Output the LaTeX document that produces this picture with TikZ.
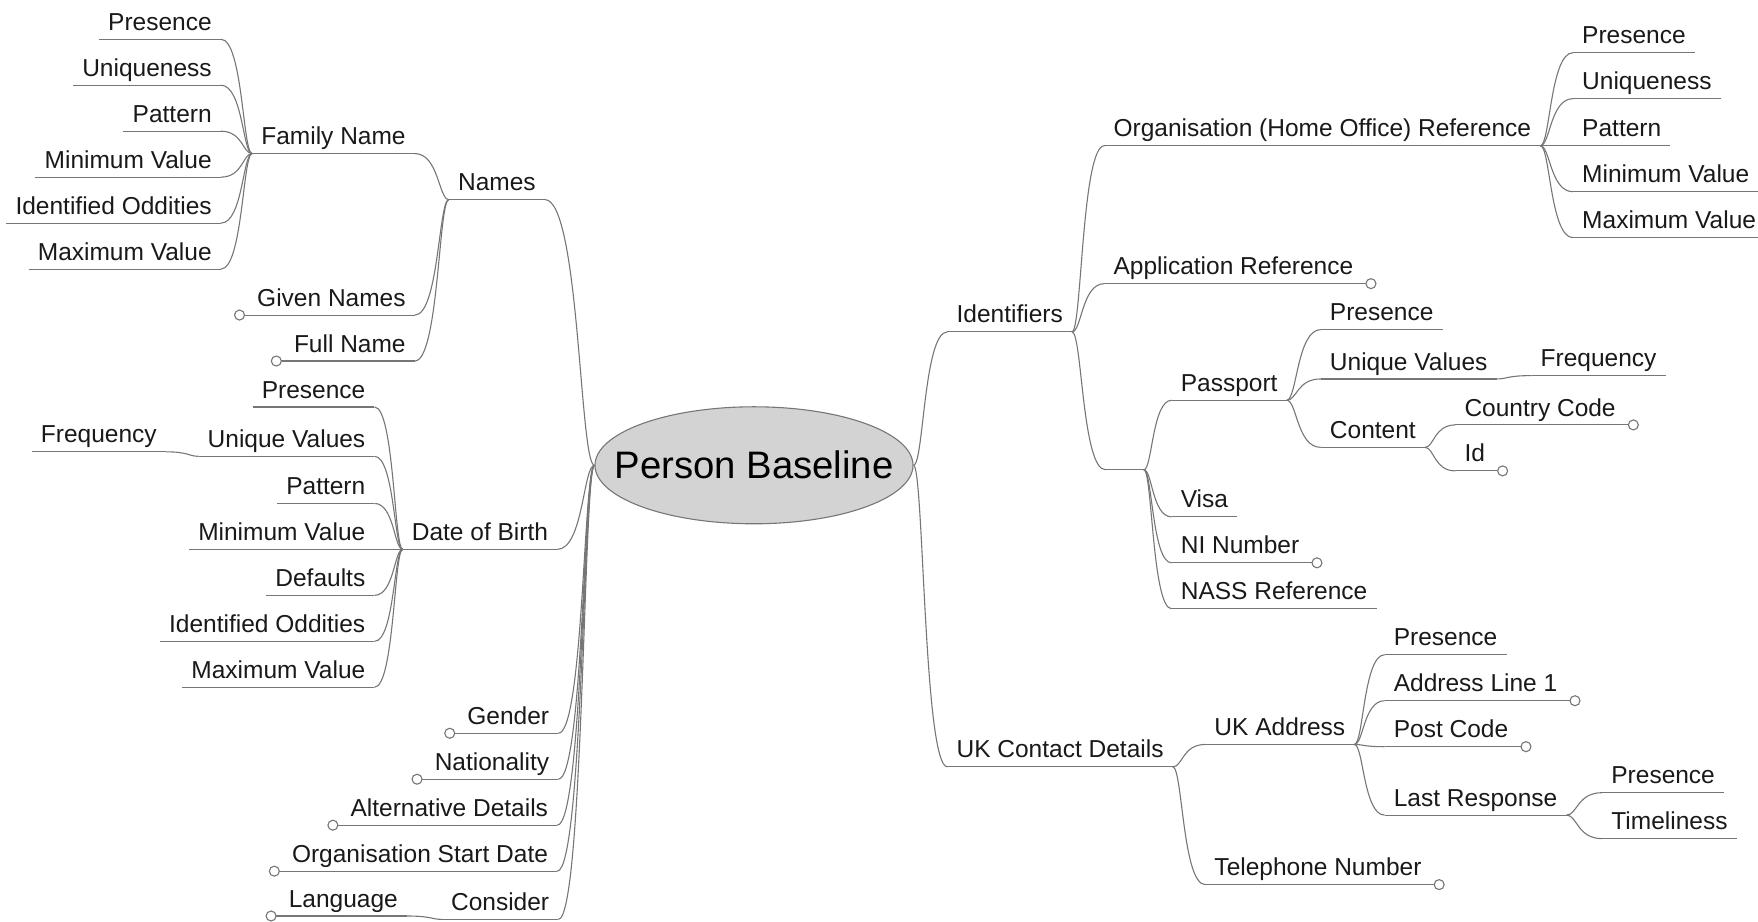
\documentclass[tikz,border=0pt]{standalone}
\usepackage{fontspec}
\setmainfont{Liberation Sans}
\usetikzlibrary{shapes.geometric,calc}
\definecolor{edge}{RGB}{118,118,118}
\definecolor{hub}{RGB}{211,211,211}
\tikzset{
  conn/.style={draw=edge, line width=1.1pt},
  item/.style={font=\fontsize{24.5pt}{29pt}\selectfont, text=black!90, inner xsep=9pt, inner ysep=3.7pt, text height=18pt, text depth=5pt},
  rt/.style={item, anchor=south west},
  lf/.style={item, anchor=south east},
  knob/.style={draw=edge, line width=1.1pt, fill=white},
}
% fork-style branch: horizontal at both ends, steep near the parent
\newcommand\linkto[2]{\draw[conn] let \p1=(#1), \p2=(#2) in (\p1) .. controls ({\x1+0.3*(\x2-\x1)},\y1) and ({\x1+0.3*(\x2-\x1)},\y2) .. (\p2);}

\begin{document}
\begin{tikzpicture}[x=1.1212pt,y=-1.1212pt]
\useasboundingbox (0,0) rectangle (1568,822);

% central topic (label boxed to zero width so the ellipse keeps its own size)
\node[ellipse, draw=edge, line width=1.1pt, fill=hub, minimum width=318pt, minimum height=117pt, inner sep=0pt,
      text height=27pt, text depth=0pt,
      font=\fontsize{38.3pt}{46pt}\selectfont] (root) at (672.5,415) {\makebox[0pt]{Person Baseline}};

% ---------- left branches ----------
\node[lf] (names) at (486,178) {Names};
\node[lf] (fam) at (370,137) {Family Name};
\node[lf] (given) at (370,281) {Given Names};
\node[lf] (fulln) at (370,322) {Full Name};
\node[lf] (famPres) at (197,35) {Presence};
\node[lf] (famUniq) at (197,76) {Uniqueness};
\node[lf] (famPatt) at (197,117) {Pattern};
\node[lf] (famMin) at (197,158) {Minimum Value};
\node[lf] (famOdd) at (197,199) {Identified Oddities};
\node[lf] (famMax) at (197,240) {Maximum Value};
\node[lf] (dob) at (497,490) {Date of Birth};
\node[lf] (dobPres) at (334,363) {Presence};
\node[lf] (dobUniq) at (334,407) {Unique Values};
\node[lf] (dobFreq) at (148,403) {Frequency};
\node[lf] (dobPatt) at (334,449) {Pattern};
\node[lf] (dobMin) at (334,490) {Minimum Value};
\node[lf] (dobDef) at (334,531) {Defaults};
\node[lf] (dobOdd) at (334,572) {Identified Oddities};
\node[lf] (dobMax) at (334,613) {Maximum Value};
\node[lf] (gender) at (498,654) {Gender};
\node[lf] (nation) at (498,695) {Nationality};
\node[lf] (altdet) at (497,736) {Alternative Details};
\node[lf] (orgstart) at (497,777) {Organisation Start Date};
\node[lf] (consider) at (498,820) {Consider};
\node[lf] (lang) at (363,817) {Language};

% ---------- right branches ----------
\node[rt] (ident) at (845,296) {Identifiers};
\node[rt] (ukcd) at (845,684) {UK Contact Details};
\node[rt] (orgref) at (985,130) {Organisation (Home Office) Reference};
\node[rt] (appref) at (985,253) {Application Reference};
\node[rt, minimum width=38pt] (docs) at (986,419) {};
\node[rt] (passport) at (1045,357) {Passport};
\node[rt] (visa) at (1045,461) {Visa};
\node[rt] (nino) at (1045,502) {NI Number};
\node[rt] (nass) at (1045,543) {NASS Reference};
\node[rt] (ppPres) at (1178,294) {Presence};
\node[rt] (ppUniq) at (1178,338) {Unique Values};
\node[rt] (ppFreq) at (1366,335) {Frequency};
\node[rt] (ppCont) at (1178,399) {Content};
\node[rt] (country) at (1298,379) {Country Code};
\node[rt] (passid) at (1298,420) {Id};
\node[rt] (orPres) at (1403,47) {Presence};
\node[rt] (orUniq) at (1403,88) {Uniqueness};
\node[rt] (orPatt) at (1403,130) {Pattern};
\node[rt] (orMin) at (1403,171) {Minimum Value};
\node[rt] (orMax) at (1403,212) {Maximum Value};
\node[rt] (ukaddr) at (1075,664) {UK Address};
\node[rt] (phone) at (1075,789) {Telephone Number};
\node[rt] (uaPres) at (1235,584) {Presence};
\node[rt] (uaLine) at (1235,625) {Address Line 1};
\node[rt] (uaPost) at (1235,666) {Post Code};
\node[rt] (uaLast) at (1235,727) {Last Response};
\node[rt] (lrPres) at (1429,707) {Presence};
\node[rt] (lrTime) at (1429,748) {Timeliness};

% underlines beneath every topic
\foreach \k in {names,fam,given,fulln,famPres,famUniq,famPatt,famMin,famOdd,famMax,
  dob,dobPres,dobUniq,dobFreq,dobPatt,dobMin,dobDef,dobOdd,dobMax,
  gender,nation,altdet,orgstart,consider,lang,
  ident,ukcd,orgref,appref,docs,passport,visa,nino,nass,ppPres,ppUniq,ppFreq,ppCont,
  country,passid,orPres,orUniq,orPatt,orMin,orMax,ukaddr,phone,uaPres,uaLine,uaPost,uaLast,lrPres,lrTime}
  \draw[conn] (\k.south west) -- (\k.south east);

% folded-branch knobs
\foreach \k in {appref,nino,country,passid,phone,uaLine,uaPost}
  \draw[conn] (\k.south east) -- ++(3.5pt,0) ++(5pt,0) node[circle, knob, inner sep=0pt, minimum size=10pt] {};
\foreach \k in {given,fulln,gender,nation,altdet,orgstart,lang}
  \draw[conn] (\k.south west) -- ++(-3.5pt,0) ++(-5pt,0) node[circle, knob, inner sep=0pt, minimum size=10pt] {};

% branches, left
\foreach \k in {names,dob,gender,nation,altdet,orgstart,consider}
  \linkto{root.west}{\k.south east};
\foreach \k in {fam,given,fulln}
  \linkto{names.south west}{\k.south east};
\foreach \k in {famPres,famUniq,famPatt,famMin,famOdd,famMax}
  \linkto{fam.south west}{\k.south east};
\foreach \k in {dobPres,dobUniq,dobPatt,dobMin,dobDef,dobOdd,dobMax}
  \linkto{dob.south west}{\k.south east};
\linkto{dobUniq.south west}{dobFreq.south east}
\linkto{consider.south west}{lang.south east}

% branches, right
\foreach \k in {ident,ukcd}
  \linkto{root.east}{\k.south west};
\foreach \k in {orgref,appref,docs}
  \linkto{ident.south east}{\k.south west};
\foreach \k in {passport,visa,nino,nass}
  \linkto{docs.south east}{\k.south west};
\foreach \k in {ppPres,ppUniq,ppCont}
  \linkto{passport.south east}{\k.south west};
\linkto{ppUniq.south east}{ppFreq.south west}
\foreach \k in {country,passid}
  \linkto{ppCont.south east}{\k.south west};
\foreach \k in {orPres,orUniq,orPatt,orMin,orMax}
  \linkto{orgref.south east}{\k.south west};
\foreach \k in {ukaddr,phone}
  \linkto{ukcd.south east}{\k.south west};
\foreach \k in {uaPres,uaLine,uaPost,uaLast}
  \linkto{ukaddr.south east}{\k.south west};
\foreach \k in {lrPres,lrTime}
  \linkto{uaLast.south east}{\k.south west};
\end{tikzpicture}
\end{document}
